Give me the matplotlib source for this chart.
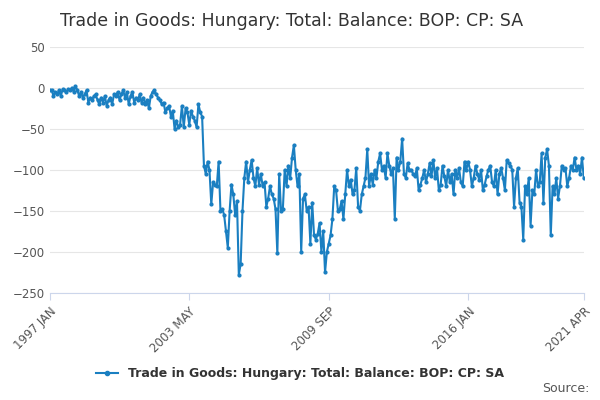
import numpy as np
import pandas as pd
import matplotlib
matplotlib.use('Agg')
import matplotlib.pyplot as plt

start = '1997-01'
values = [
    -3,-3,-10,-5,-8,-3,-10,-2,-3,-5,-2,-3,
    0,-5,2,-3,-10,-5,-12,-8,-3,-18,-12,-15,
    -10,-8,-15,-20,-12,-18,-10,-22,-15,-12,-20,-8,
    -10,-5,-15,-8,-3,-12,-5,-20,-10,-5,-18,-12,
    -15,-8,-18,-12,-20,-15,-25,-10,-5,-3,-8,-12,
    -15,-20,-18,-30,-25,-22,-35,-28,-50,-40,-48,-45,
    -22,-48,-25,-30,-45,-28,-35,-40,-48,-20,-30,-35,
    -95,-105,-90,-100,-142,-115,-118,-120,-90,-150,-148,-155,
    -175,-195,-150,-118,-130,-155,-138,-228,-215,-150,-110,-90,
    -115,-100,-88,-110,-120,-98,-118,-105,-120,-115,-145,-135,
    -120,-130,-135,-148,-202,-105,-150,-148,-100,-120,-95,-110,
    -85,-70,-100,-120,-105,-200,-135,-130,-150,-145,-190,-140,
    -180,-185,-178,-165,-200,-175,-225,-200,-190,-180,-160,-120,
    -125,-150,-148,-138,-160,-130,-100,-120,-112,-130,-125,-98,
    -145,-150,-130,-120,-110,-75,-120,-105,-118,-100,-110,-90,
    -80,-100,-95,-110,-80,-95,-105,-98,-160,-85,-100,-90,
    -62,-105,-110,-92,-100,-100,-105,-108,-98,-125,-118,-110,
    -100,-115,-105,-92,-108,-88,-110,-98,-125,-118,-95,-108,
    -120,-100,-115,-105,-130,-100,-110,-98,-115,-120,-90,-100,
    -90,-100,-120,-110,-95,-105,-112,-100,-125,-118,-108,-100,
    -95,-115,-120,-100,-130,-105,-98,-110,-125,-88,-92,-95,
    -100,-145,-110,-98,-140,-145,-185,-120,-130,-110,-168,-125,
    -130,-100,-120,-115,-80,-140,-85,-75,-95,-180,-120,-130,
    -110,-135,-120,-95,-100,-98,-120,-110,-95,-100,-85,-100,
    -95,-105,-85,-110,
]
tick_labels = ['1997 JAN', '2003 MAY', '2009 SEP', '2016 JAN', '2021 APR']
tick_pos = [0, 76, 152, 228, 291]

x = np.arange(len(values))
color = '#1a7fc1'
label = 'Trade in Goods: Hungary: Total: Balance: BOP: CP: SA'

fig = plt.figure(figsize=(6, 4), dpi=100)
ax = fig.add_axes([0.083, 0.268, 0.89, 0.615])
ax.plot(x, values, '-o', color=color, linewidth=1.5, markersize=2.0, label=label)
ax.set_xlim(0, 291)
ax.set_ylim(-250, 50)
ax.set_yticks(range(-250, 51, 50))
ax.set_xticks(tick_pos)
ax.set_xticklabels(tick_labels, rotation=45, ha='right', rotation_mode='anchor')
ax.grid(axis='y', color='#e6e6e6', linewidth=0.8)
ax.tick_params(axis='y', length=0, labelsize=8.5, colors='#555555')
ax.tick_params(axis='x', length=5, color='#ccd6eb', labelsize=8.5, labelcolor='#555555')
for s in ['top', 'right', 'left']:
    ax.spines[s].set_visible(False)
ax.spines['bottom'].set_color('#ccd6eb')
ax.set_axisbelow(True)

fig.text(0.1, 0.935, label, fontsize=12.5, color='#333333')
fig.legend(loc='center', bbox_to_anchor=(0.5, 0.065), frameon=False,
           prop={'size': 9, 'weight': 'bold'}, labelcolor='#333333',
           handlelength=1.8, markerscale=1.5)
fig.text(0.982, 0.02, 'Source:', ha='right', fontsize=9, color='#555555')
fig.savefig('out.png')
